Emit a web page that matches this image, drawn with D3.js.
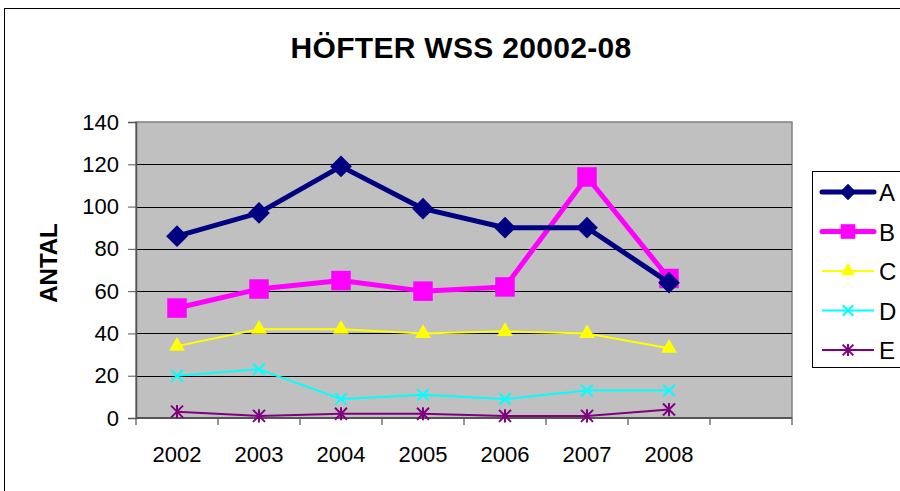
<!DOCTYPE html>
<html>
<head>
<meta charset="utf-8">
<script src="https://cdn.jsdelivr.net/npm/d3@7"></script>
<style>
  body { margin: 0; background: #fff; }
  text { font-family: "Liberation Sans", Arial, sans-serif; }
</style>
</head>
<body>
<script>
// data
var years = ["2002", "2003", "2004", "2005", "2006", "2007", "2008", ""];
var seriesNames = ["A", "B", "C", "D", "E"];
var valsA = [86, 97, 119, 99, 90, 90, 64];
var valsB = [52, 61, 65, 60, 62, 114, 66];
var valsC = [34, 42, 42, 40, 41, 40, 33];
var valsD = [20, 23, 9, 11, 9, 13, 13];
var valsE = [3, 1, 2, 2, 1, 1, 4];
var yTicks = [0, 20, 40, 60, 80, 100, 120, 140];

var svgWidth = 900, svgHeight = 491;
var plot = { left: 136, top: 122, right: 792, bottom: 418 };

var svg = d3.select("body").append("svg")
  .attr("width", svgWidth)
  .attr("height", svgHeight);

// outer chart border
svg.append("rect")
  .attr("x", 4.5).attr("y", 8.5)
  .attr("width", 920).attr("height", 500)
  .attr("fill", "#fff").attr("stroke", "#000").attr("stroke-width", 1);

svg.append("text")
  .attr("x", 461).attr("y", 58)
  .attr("text-anchor", "middle")
  .attr("font-size", "30px").attr("font-weight", "bold")
  .attr("letter-spacing", "0.3px")
  .text("HÖFTER WSS 20002-08");

var x = d3.scaleBand().domain(years).range([plot.left, plot.right]);
var y = d3.scaleLinear().domain([0, 140]).range([plot.bottom, plot.top]);

// plot area
svg.append("rect")
  .attr("x", plot.left).attr("y", plot.top)
  .attr("width", plot.right - plot.left).attr("height", plot.bottom - plot.top)
  .attr("fill", "#c0c0c0").attr("stroke", "#808080").attr("stroke-width", 1.5);

// gridlines
svg.append("g").selectAll("line")
  .data(yTicks.filter(function(d){ return d > 0 && d < 140; }))
  .enter().append("line")
  .attr("x1", plot.left).attr("x2", plot.right)
  .attr("y1", function(d){ return Math.round(y(d)) + 0.5; })
  .attr("y2", function(d){ return Math.round(y(d)) + 0.5; })
  .attr("stroke", "#000").attr("stroke-width", 1);

// y axis
var yAxis = d3.axisLeft(y).tickValues(yTicks).tickSize(8).tickPadding(9);
var gy = svg.append("g").attr("transform", "translate(" + plot.left + ",0)").call(yAxis);
gy.select(".domain").attr("stroke", "#555").attr("stroke-width", 1.5);
gy.selectAll(".tick line").attr("stroke", "#555");
gy.selectAll("text").attr("font-size", "22px").attr("fill", "#000")
  .attr("font-family", "Liberation Sans, Arial, sans-serif");

// x axis: ticks on category boundaries
svg.append("line")
  .attr("x1", plot.left).attr("x2", plot.right)
  .attr("y1", plot.bottom).attr("y2", plot.bottom)
  .attr("stroke", "#555").attr("stroke-width", 2);
var bounds = years.map(function(d){ return x(d); }).concat([plot.right]);
svg.append("g").selectAll("line").data(bounds).enter().append("line")
  .attr("x1", function(d){ return d; }).attr("x2", function(d){ return d; })
  .attr("y1", plot.bottom).attr("y2", plot.bottom + 7)
  .attr("stroke", "#555").attr("stroke-width", 1.2);
svg.append("g").selectAll("text").data(years.filter(function(d){ return d; }))
  .enter().append("text")
  .attr("x", function(d){ return x(d) + x.bandwidth() / 2; })
  .attr("y", 462)
  .attr("text-anchor", "middle")
  .attr("font-size", "22px")
  .text(function(d){ return d; });

svg.append("text")
  .attr("transform", "translate(57,263) rotate(-90)")
  .attr("text-anchor", "middle")
  .attr("font-size", "24px").attr("font-weight", "bold")
  .text("ANTAL");

var series = [
  { name: "A", values: valsA, color: "#000080", width: 5, marker: "diamond", size: 300 },
  { name: "B", values: valsB, color: "#ff00ff", width: 5, marker: "square", size: 380 },
  { name: "C", values: valsC, color: "#ffff00", width: 2, marker: "triangle", size: 110 },
  { name: "D", values: valsD, color: "#00ffff", width: 2, marker: "cross", size: 0 },
  { name: "E", values: valsE, color: "#800080", width: 2, marker: "star", size: 0 }
];

function cx(i){ return x(years[i]) + x.bandwidth() / 2; }

function drawMarker(g, s, px, py, scale) {
  scale = scale || 1;
  if (s.marker === "diamond") {
    g.append("path").attr("d", d3.symbol().type(d3.symbolDiamond2).size(s.size * scale * scale)())
      .attr("transform", "translate(" + px + "," + py + ")").attr("fill", s.color);
  } else if (s.marker === "square") {
    g.append("path").attr("d", d3.symbol().type(d3.symbolSquare).size(s.size * scale * scale)())
      .attr("transform", "translate(" + px + "," + py + ")").attr("fill", s.color);
  } else if (s.marker === "triangle") {
    g.append("path").attr("d", d3.symbol().type(d3.symbolTriangle).size(s.size * scale * scale)())
      .attr("transform", "translate(" + px + "," + py + ")").attr("fill", s.color);
  } else if (s.marker === "cross") {
    g.append("path").attr("d", d3.symbol().type(d3.symbolX).size(90 * scale * scale)())
      .attr("transform", "translate(" + px + "," + py + ")")
      .attr("fill", "none").attr("stroke", s.color).attr("stroke-width", 2);
  } else if (s.marker === "star") {
    var r = 6 * scale;
    var pth = "M" + (-r) + "," + (-r) + "L" + r + "," + r +
              "M" + (-r) + "," + r + "L" + r + "," + (-r) +
              "M0," + (-r * 1.1) + "L0," + (r * 1.1);
    g.append("path").attr("d", pth)
      .attr("transform", "translate(" + px + "," + py + ")")
      .attr("fill", "none").attr("stroke", s.color).attr("stroke-width", 2);
  }
}

var line = d3.line().x(function(d, i){ return cx(i); }).y(function(d){ return y(d); });

series.slice().reverse().forEach(function(s) {
  var g = svg.append("g");
  g.append("path").datum(s.values).attr("d", line)
    .attr("fill", "none").attr("stroke", s.color).attr("stroke-width", s.width)
    .attr("stroke-linejoin", "round");
  s.values.forEach(function(v, i){ drawMarker(g, s, cx(i), y(v)); });
});

// legend
var leg = svg.append("g");
leg.append("rect").attr("x", 812.5).attr("y", 171.5).attr("width", 120).attr("height", 196)
  .attr("fill", "#fff").attr("stroke", "#000").attr("stroke-width", 1);
series.forEach(function(s, i) {
  var ly = 192 + i * 39.5;
  leg.append("line").attr("x1", 822).attr("x2", 874).attr("y1", ly).attr("y2", ly)
    .attr("stroke", s.color).attr("stroke-width", s.width).attr("stroke-linecap", s.width > 3 ? "round" : "butt");
  drawMarker(leg, s, 848, ly, s.width > 3 ? 0.75 : 0.9);
  leg.append("text").attr("x", 879).attr("y", ly + 9).attr("font-size", "24px").text(s.name);
});
</script>
</body>
</html>
